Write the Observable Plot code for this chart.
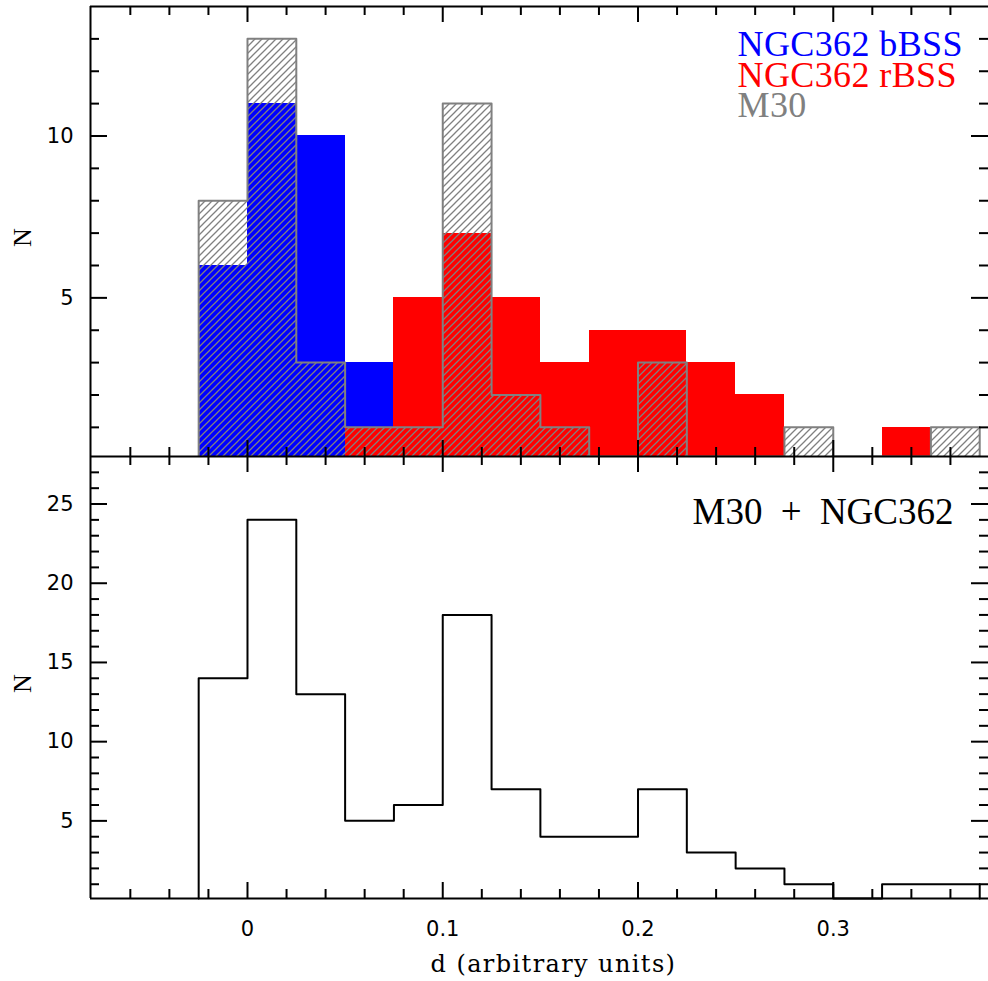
<!DOCTYPE html>
<html>
<head>
<meta charset="utf-8">
<script src="https://cdn.jsdelivr.net/npm/d3@7"></script>
<script src="https://cdn.jsdelivr.net/npm/@observablehq/plot@0.6"></script>
<style>
  body { margin: 0; background: #fff; }
  #chart svg { display: block; }
</style>
</head>
<body>
<div id="chart"></div>
<script>
// ---- data ----
const binStart = [-0.025, 0, 0.025, 0.05, 0.075, 0.1, 0.125, 0.15, 0.175, 0.2, 0.225, 0.25, 0.275, 0.3, 0.325, 0.35];
const binWidth = 0.025;
const bBSS  = [6, 11, 10, 3, 0, 0, 0, 0, 0, 0, 0, 0, 0, 0, 0, 0];
const rBSS  = [0, 0, 0, 1, 5, 7, 5, 3, 4, 4, 3, 2, 0, 0, 1, 0];
const M30   = [8, 13, 3, 1, 1, 11, 2, 1, 0, 3, 0, 0, 1, 0, 0, 1];
const total = [14, 24, 13, 5, 6, 18, 7, 4, 4, 7, 3, 2, 1, 0, 1, 1];

const xMajorTicks = [0, 0.1, 0.2, 0.3];
const xMinorTicks = [-0.06, -0.04, -0.02, 0.02, 0.04, 0.06, 0.08, 0.12, 0.14, 0.16, 0.18, 0.22, 0.24, 0.26, 0.28, 0.32, 0.34, 0.36];
const xTickLabels = ["0", "0.1", "0.2", "0.3"];
const yTopMajor = [5, 10];
const yTopMinor = [1, 2, 3, 4, 6, 7, 8, 9, 11, 12, 13];
const yBotMajor = [5, 10, 15, 20, 25];
const yBotMinor = [1, 2, 3, 4, 6, 7, 8, 9, 11, 12, 13, 14, 16, 17, 18, 19, 21, 22, 23, 24, 26, 27];

const legendLabels = ["NGC362 bBSS", "NGC362 rBSS", "M30"];
const legendColors = ["#0000ff", "#ff0000", "#808080"];
const bottomLabel = "M30 + NGC362";
const xLabel = "d (arbitrary units)";
const yLabel = "N";

const xDomain = [-0.0804, 0.3795];
const yTopDomain = [0.1, 14];
const yBotDomain = [0.1, 28];

// ---- layout ----
const W = 988, ML = 90, MR = 0;
const frameW = W - ML - MR;
const topH = 456, topMT = 6, topFrameH = topH - topMT;
const botH = 525, botMB = 83, botFrameH = botH - botMB;
const majorLen = 16, minorLen = 9;
const tickFont = "DejaVu Sans";
const serifFont = "Liberation Serif";

const bins = binStart.map((x0, i) => ({x1: x0, x2: x0 + binWidth, b: bBSS[i], r: rBSS[i], m: M30[i], t: total[i]}));
function stepOutline(values) {
  const pts = [{x: binStart[0], y: 0}];
  values.forEach((v, i) => {
    pts.push({x: binStart[i], y: v});
    pts.push({x: binStart[i] + binWidth, y: v});
  });
  pts.push({x: binStart[binStart.length - 1] + binWidth, y: 0});
  return pts;
}

function tickMarks(frameH, yMajor, yMinor) {
  const s = {stroke: "black", strokeWidth: 2};
  return [
    Plot.ruleX(xMajorTicks, {x: d => d, insetTop: frameH - majorLen, ...s}),
    Plot.ruleX(xMinorTicks, {x: d => d, insetTop: frameH - minorLen, ...s}),
    Plot.ruleX(xMajorTicks, {x: d => d, insetBottom: frameH - majorLen, ...s}),
    Plot.ruleX(xMinorTicks, {x: d => d, insetBottom: frameH - minorLen, ...s}),
    Plot.ruleY(yMajor, {y: d => d, insetRight: frameW - majorLen - 1, ...s}),
    Plot.ruleY(yMinor, {y: d => d, insetRight: frameW - minorLen, ...s}),
    Plot.ruleY(yMajor, {y: d => d, insetLeft: frameW - majorLen - 1, ...s}),
    Plot.ruleY(yMinor, {y: d => d, insetLeft: frameW - minorLen, ...s})
  ];
}

function yTickLabels(vals) {
  return Plot.text(vals, {y: d => d, text: d => String(d), frameAnchor: "left", dx: -17, textAnchor: "end",
    lineAnchor: "middle", fontSize: 21, fontFamily: tickFont, fill: "black"});
}

const rectOpts = {x1: "x1", x2: "x2", y1: 0, shapeRendering: "crispEdges"};

// ---- top panel ----
const topPlot = Plot.plot({
  width: W, height: topH,
  marginTop: topMT, marginBottom: 0, marginLeft: ML, marginRight: MR,
  style: {background: "white", overflow: "hidden"},
  x: {domain: xDomain, axis: null},
  y: {domain: yTopDomain, axis: null, clamp: true},
  marks: [
    Plot.rectY(bins.filter(d => d.b > 0), {...rectOpts, y2: "b", fill: "#0000ff"}),
    Plot.rectY(bins.filter(d => d.r > 0), {...rectOpts, y2: "r", fill: "#ff0000"}),
    Plot.rectY(bins.filter(d => d.m > 0), {...rectOpts, y2: "m", fill: "url(#hatch)"}),
    Plot.line(stepOutline(M30), {x: "x", y: "y", stroke: "#808080", strokeWidth: 2}),
    Plot.ruleX([xDomain[0]], {stroke: "black", strokeWidth: 2}),
    Plot.ruleY([yTopDomain[1], yTopDomain[0]], {stroke: "black", strokeWidth: 2}),
    ...tickMarks(topFrameH, yTopMajor, yTopMinor),
    yTickLabels(yTopMajor),
    Plot.text([yLabel], {frameAnchor: "left", dx: -68, dy: 6, rotate: -90, text: d => d, textAnchor: "middle",
      lineAnchor: "middle", fontSize: 26, fontFamily: serifFont, fill: "black"}),
    // legend: one multi-line text block, each line coloured after render
    Plot.text([legendLabels.join("\n")], {frameAnchor: "top-left", dx: 647, dy: 28, text: d => d,
      textAnchor: "start", lineAnchor: "top", lineHeight: 30.5 / 36, fontSize: 36, fontFamily: serifFont, fill: "black"})
  ]
});
const ns = "http://www.w3.org/2000/svg";
const defs = document.createElementNS(ns, "defs");
defs.innerHTML = '<pattern id="hatch" patternUnits="userSpaceOnUse" width="7" height="7">' +
  '<path d="M-1,1 l2,-2 M0,7 l7,-7 M6,8 l2,-2" stroke="#808080" stroke-width="1.3" fill="none"/></pattern>';
topPlot.insertBefore(defs, topPlot.firstChild);
for (const ts of topPlot.querySelectorAll("tspan")) {
  const i = legendLabels.indexOf(ts.textContent);
  if (i >= 0) { ts.setAttribute("fill", legendColors[i]); ts.setAttribute("letter-spacing", "0.4"); }
}

// ---- bottom panel ----
const botPlot = Plot.plot({
  width: W, height: botH,
  marginTop: 0, marginBottom: botMB, marginLeft: ML, marginRight: MR,
  style: {background: "white", overflow: "hidden"},
  x: {domain: xDomain, axis: null},
  y: {domain: yBotDomain, axis: null, clamp: true},
  marks: [
    Plot.line(stepOutline(total), {x: "x", y: "y", stroke: "black", strokeWidth: 2}),
    Plot.ruleX([xDomain[0]], {stroke: "black", strokeWidth: 2}),
    Plot.ruleY([yBotDomain[1], yBotDomain[0]], {stroke: "black", strokeWidth: 2}),
    ...tickMarks(botFrameH, yBotMajor, yBotMinor),
    yTickLabels(yBotMajor),
    Plot.text(xMajorTicks, {x: d => d, text: (d, i) => xTickLabels[i], frameAnchor: "bottom", dy: 31,
      lineAnchor: "middle", fontSize: 21, fontFamily: tickFont, fill: "black"}),
    Plot.text([xLabel], {frameAnchor: "bottom", dx: 14, dy: 73, text: d => d, textAnchor: "middle",
      lineAnchor: "bottom", fontSize: 24, fontFamily: "DejaVu Serif", fill: "black"}),
    Plot.text([yLabel], {frameAnchor: "left", dx: -68, dy: 6, rotate: -90, text: d => d, textAnchor: "middle",
      lineAnchor: "middle", fontSize: 26, fontFamily: serifFont, fill: "black"}),
    Plot.text([bottomLabel], {frameAnchor: "top-right", dx: -35, dy: 67, text: d => d, textAnchor: "end",
      lineAnchor: "bottom", fontSize: 37, fontFamily: serifFont, fill: "black"})
  ]
});
for (const t of botPlot.querySelectorAll("text")) {
  if (t.textContent === xLabel) t.setAttribute("letter-spacing", "1.4");
  if (t.textContent === bottomLabel) t.setAttribute("word-spacing", "9");
}

const chart = document.getElementById("chart");
chart.appendChild(topPlot);
chart.appendChild(botPlot);
</script>
</body>
</html>
